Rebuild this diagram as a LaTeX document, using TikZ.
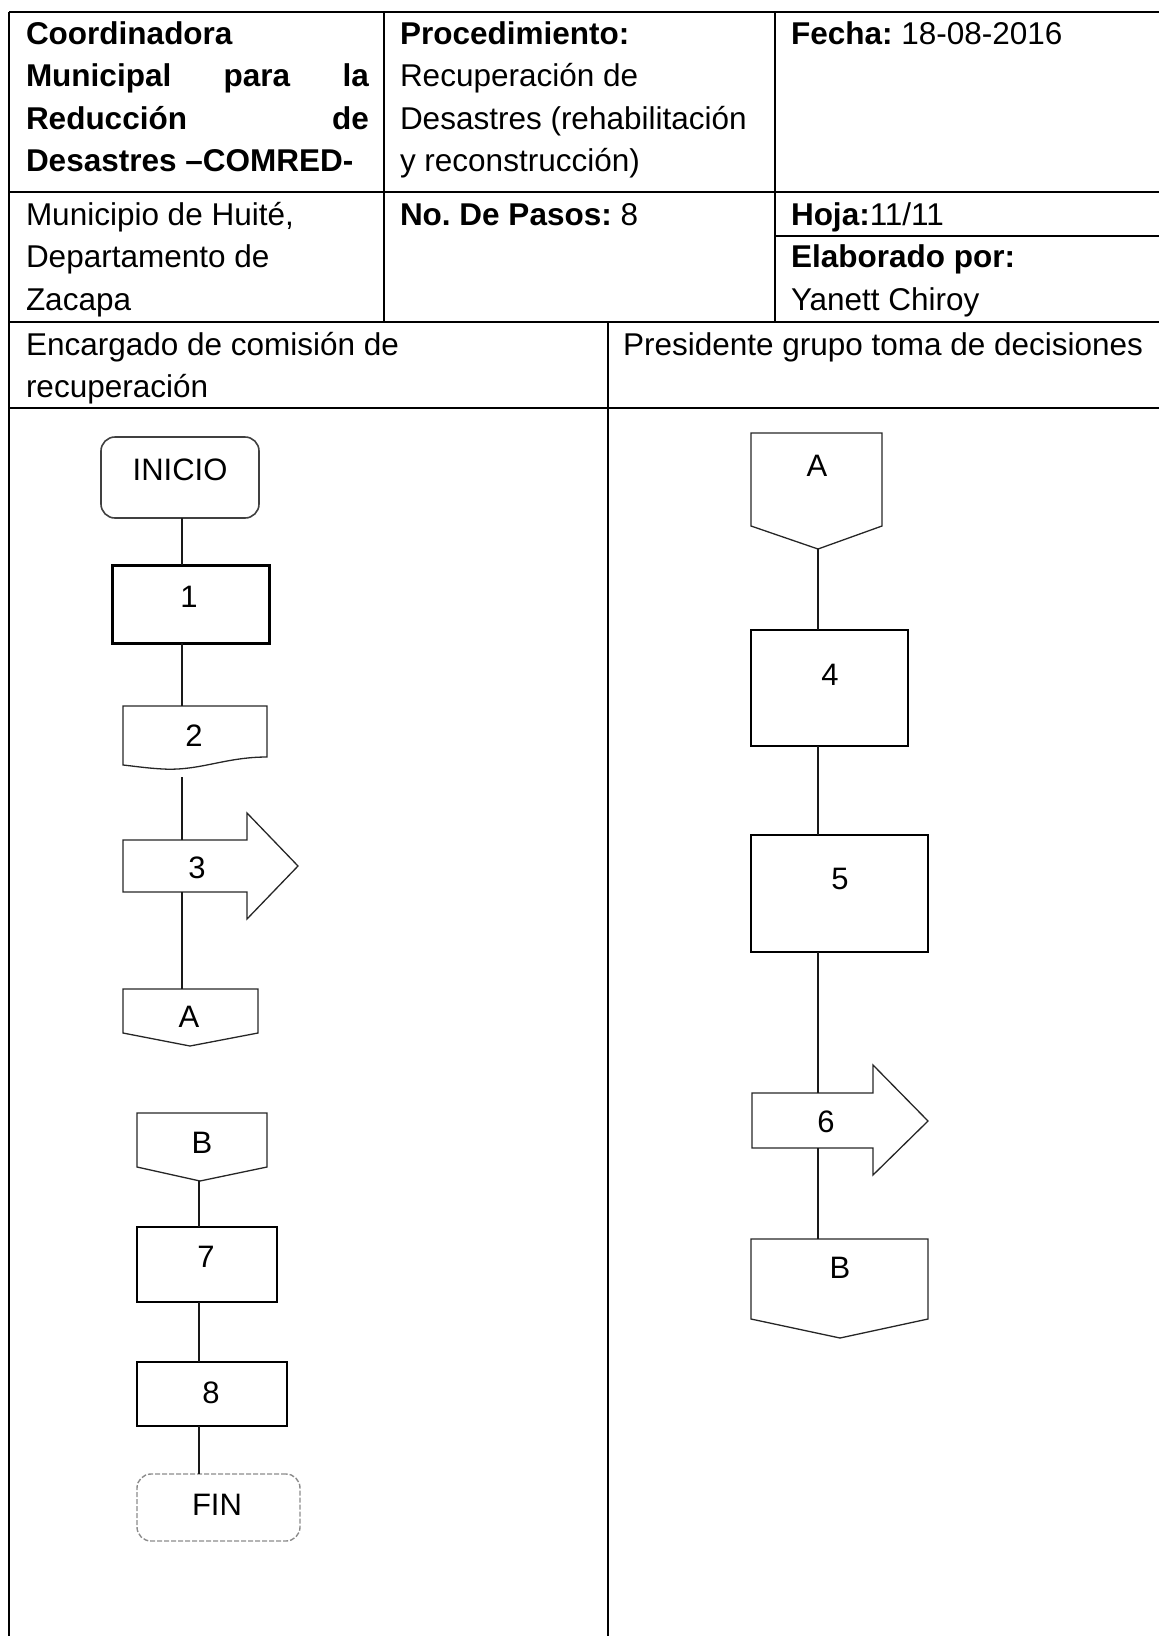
\documentclass[tikz,border=0pt]{standalone}
\usepackage{fontspec}
\setmainfont{Liberation Sans}
\frenchspacing
\begin{document}
\begin{tikzpicture}[x=1pt,y=-1pt,
  every node/.style={inner sep=0pt, outer sep=0pt},
  hdr/.style={anchor=base west, font=\fontsize{31.5}{42.5}\selectfont},
  lbl/.style={anchor=center, font=\fontsize{31}{37}\selectfont},
  grid/.style={line width=1.8pt, black},
  procbox/.style={draw=black, rectangle, line width=2.4pt},
  thinshape/.style={draw=black!85, line width=1.3pt, line join=miter},
  conn/.style={line width=1.7pt, black!90}]
\useasboundingbox (0,0) rectangle (1159,1636);

% ---------- table grid ----------
\draw[grid] (9,12) -- (1159,12);
\draw[grid] (9,12) -- (9,1636);
\draw[grid] (384,12) -- (384,322);
\draw[grid] (775,12) -- (775,322);
\draw[grid] (9,192) -- (1159,192);
\draw[grid] (775,236) -- (1159,236);
\draw[grid] (9,322) -- (1159,322);
\draw[grid] (608,322) -- (608,1636);
\draw[grid] (9,408) -- (1159,408);

% ---------- header texts ----------
\node[hdr] (h11) at (26,44) {\textbf{Coordinadora}};
\node[hdr] (h12) at (26,86.5) {\hbox to 343pt{\textbf{Municipal}\hfill\textbf{para}\hfill\textbf{la}}};
\node[hdr] (h13) at (26,129) {\hbox to 343pt{\textbf{Reducción}\hfill\textbf{de}}};
\node[hdr] (h14) at (26,171.5) {\textbf{Desastres –COMRED-}};

\node[hdr] (h21) at (400,44) {\textbf{Procedimiento:}};
\node[hdr] (h22) at (400,86.5) {Recuperación de};
\node[hdr] (h23) at (400,129) {Desastres (rehabilitación};
\node[hdr] (h24) at (400,171.5) {y reconstrucción)};

\node[hdr] (h31) at (791,44) {\textbf{Fecha:} 18-08-2016};

\node[hdr] (r11) at (26,225) {Municipio de Huité,};
\node[hdr] (r12) at (26,267.5) {Departamento de};
\node[hdr] (r13) at (26,310) {Zacapa};
\node[hdr] (r21) at (400,225) {\textbf{No. De Pasos:} 8};
\node[hdr] (r31) at (791,225) {\textbf{Hoja:}11/11};
\node[hdr] (r32) at (791,267.5) {\textbf{Elaborado por:}};
\node[hdr] (r33) at (791,310) {Yanett Chiroy};

\node[hdr] (l11) at (26,355) {Encargado de comisión de};
\node[hdr] (l12) at (26,397.5) {recuperación};
\node[hdr] (l21) at (623,355) {Presidente grupo toma de decisiones};

% ---------- lane lines ----------
\coordinate (xL) at (182,0);
\coordinate (xL2) at (199,0);
\coordinate (xR) at (818,0);

% ---------- left lane shapes ----------
\node[draw=black!75, line width=1.6pt, rounded corners=14pt, minimum width=158pt, minimum height=81pt] (ini) at (180,477.5) {};
\node[lbl] (ini-t) at (180,470) {INICIO};

\node[procbox, line width=3pt, minimum width=157pt, minimum height=78pt] (b1) at (190.5,604) {};
\node[lbl] (b1-t) at (189,597) {1};

\draw[thinshape] (123,706) -- (267,706) -- (267,757)
  .. controls (225,757) and (200,771) .. (163,769)
  .. controls (145,768) and (133,766) .. (123,765) -- cycle;
\coordinate (d2top) at (182,706);
\coordinate (d2low) at (182,777);
\node[lbl] (d2-t) at (194,736) {2};

\draw[thinshape] (123,840) -- (247,840) -- (247,813) -- (298,866) -- (247,919) -- (247,892) -- (123,892) -- cycle;
\coordinate (a3top) at (182,840);
\coordinate (a3bot) at (182,892);
\node[lbl] (a3-t) at (197,868) {3};

\draw[thinshape] (123,989) -- (258,989) -- (258,1033) -- (190,1046) -- (123,1033) -- cycle;
\coordinate (oAtop) at (182,989);
\node[lbl] (oA-t) at (189,1017) {A};

\draw[thinshape] (137,1113) -- (267,1113) -- (267,1167) -- (200,1181) -- (137,1167) -- cycle;
\coordinate (iBpt) at (199,1181);
\node[lbl] (iB-t) at (202,1143) {B};

\node[procbox, minimum width=140pt, minimum height=75pt] (b7) at (207,1264.5) {};
\node[lbl] (b7-t) at (206,1257) {7};

\node[procbox, minimum width=150pt, minimum height=64pt] (b8) at (212,1394) {};
\node[lbl] (b8-t) at (211,1393) {8};

\node[draw=black!45, line width=1.4pt, dash pattern=on 5pt off 2pt, rounded corners=14pt, minimum width=163pt, minimum height=67pt] (fin) at (218.5,1507.5) {};
\node[lbl] (fin-t) at (217,1505) {FIN};

% left connectors
\draw[conn] (ini.south -| xL) -- (b1.north -| xL);
\draw[conn] (b1.south -| xL) -- (d2top);
\draw[conn] (d2low) -- (a3top);
\draw[conn] (a3bot) -- (oAtop);
\draw[conn] (iBpt) -- (b7.north -| xL2);
\draw[conn] (b7.south -| xL2) -- (b8.north -| xL2);
\draw[conn] (b8.south -| xL2) -- (fin.north -| xL2);

% ---------- right lane shapes ----------
\draw[thinshape] (751,433) -- (882,433) -- (882,526) -- (818,549) -- (751,526) -- cycle;
\coordinate (iApt) at (818,549);
\node[lbl] (iA-t) at (817,466) {A};

\node[procbox, minimum width=157pt, minimum height=116pt] (b4) at (829.5,688) {};
\node[lbl] (b4-t) at (830,675) {4};

\node[procbox, minimum width=177pt, minimum height=117pt] (b5) at (839.5,893.5) {};
\node[lbl] (b5-t) at (840,879) {5};

\draw[thinshape] (752,1093) -- (873,1093) -- (873,1065) -- (928,1121) -- (873,1175) -- (873,1148) -- (752,1148) -- cycle;
\coordinate (a6top) at (818,1093);
\coordinate (a6bot) at (818,1148);
\node[lbl] (a6-t) at (826,1122) {6};

\draw[thinshape] (751,1239) -- (928,1239) -- (928,1319) -- (840,1338) -- (751,1319) -- cycle;
\coordinate (oBtop) at (818,1239);
\node[lbl] (oB-t) at (840,1268) {B};

% right connectors
\draw[conn] (iApt) -- (b4.north -| xR);
\draw[conn] (b4.south -| xR) -- (b5.north -| xR);
\draw[conn] (b5.south -| xR) -- (a6top);
\draw[conn] (a6bot) -- (oBtop);
\end{tikzpicture}
\end{document}
